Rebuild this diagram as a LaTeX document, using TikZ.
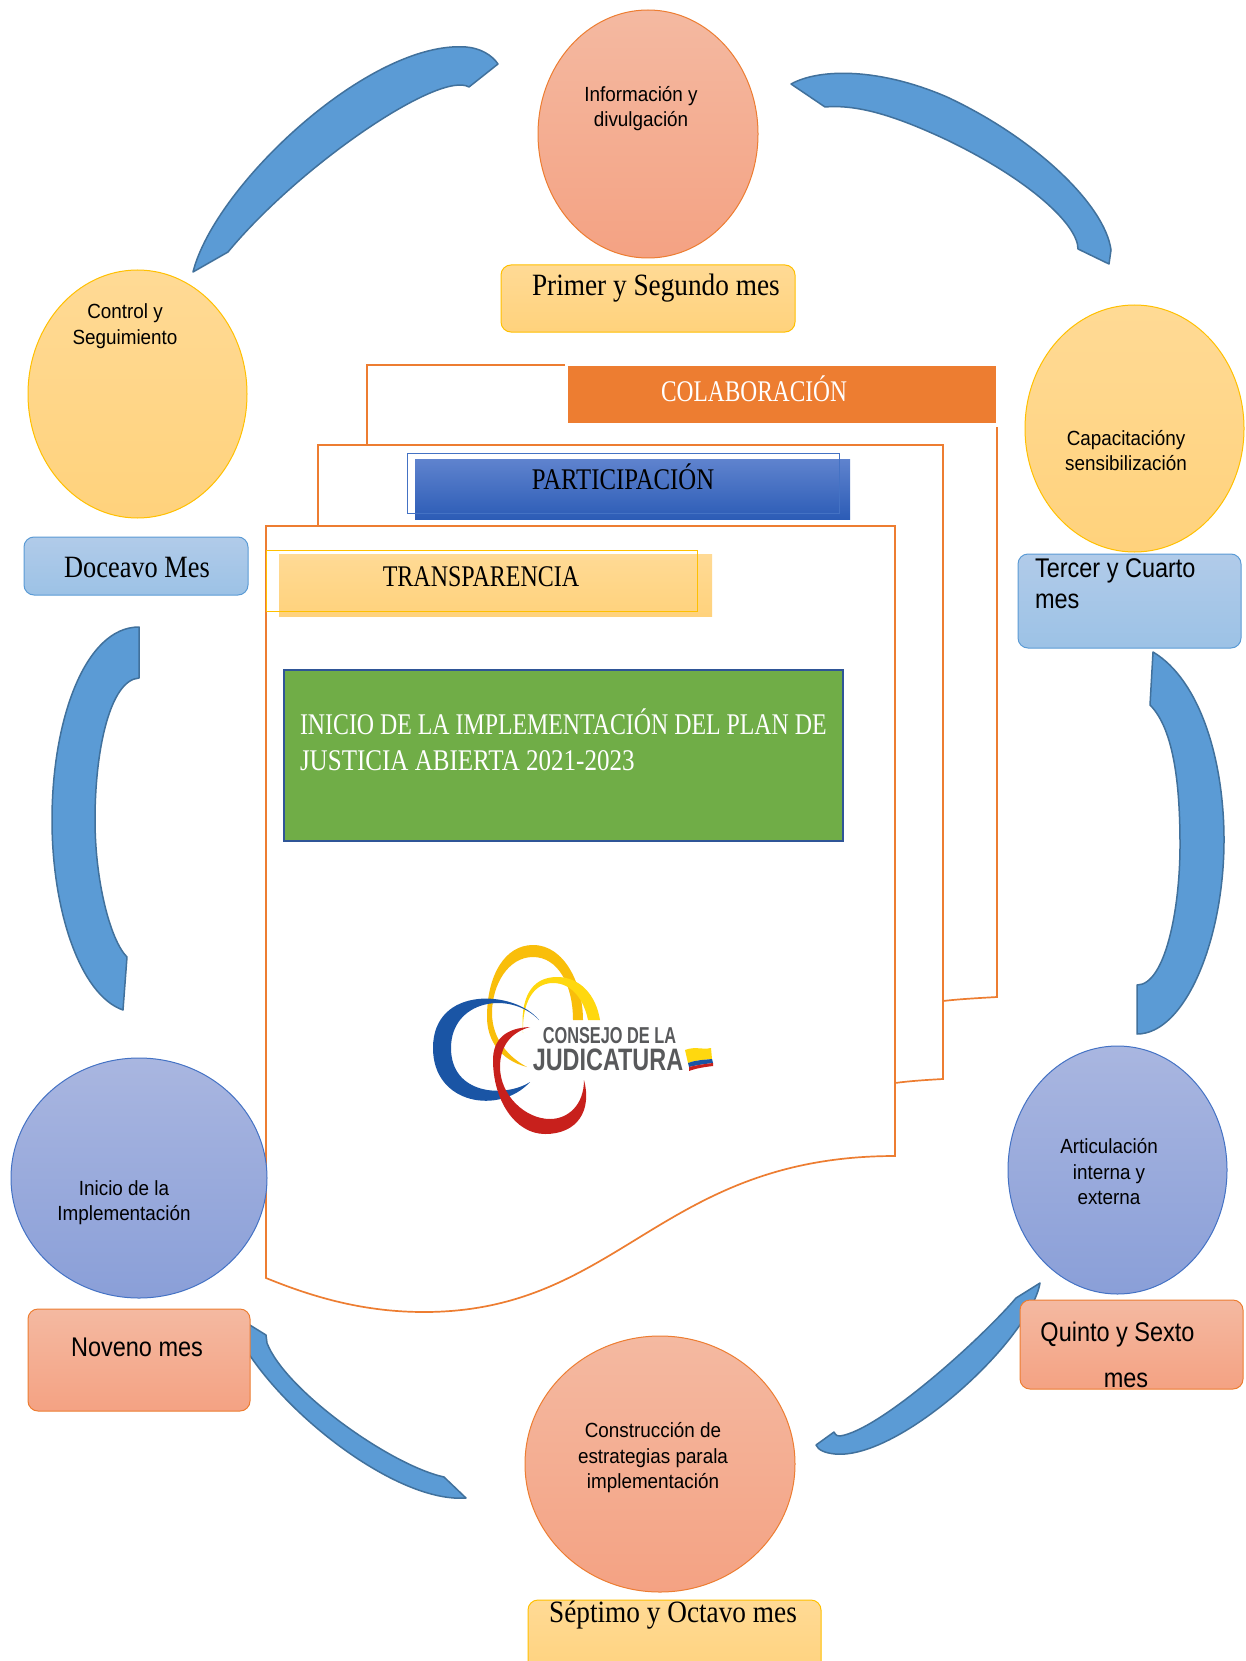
\documentclass[tikz,border=0pt]{standalone}
\usepackage{fontspec}
\usetikzlibrary{shapes.geometric}
\setmainfont{Liberation Serif}
\newfontfamily\srf[FakeStretch=0.80]{Liberation Serif}
\newfontfamily\srfc[FakeStretch=0.78]{Liberation Serif}
\newfontfamily\srfm[FakeStretch=0.88]{Liberation Serif}
\newfontfamily\srfd[FakeStretch=0.85]{Liberation Serif}
\newfontfamily\srfa[FakeStretch=0.795]{Liberation Serif}
\newfontfamily\srfb[FakeStretch=0.835]{Liberation Serif}
\newfontfamily\srfp[FakeStretch=0.825]{Liberation Serif}
\newfontfamily\snf[FakeStretch=0.92]{Liberation Sans}
\newfontfamily\snt[FakeStretch=0.87]{Liberation Sans}
\newfontfamily\lgf[FakeStretch=0.71]{Liberation Sans}
\newfontfamily\lgg[FakeStretch=0.755]{Liberation Sans}
\definecolor{arrowfill}{HTML}{5B9BD5}
\definecolor{arrowline}{HTML}{41719C}
\definecolor{pageline}{HTML}{ED7D31}
\definecolor{salmonA}{HTML}{F4B9A1}
\definecolor{salmonB}{HTML}{F4A283}
\definecolor{yellowA}{HTML}{FFDA95}
\definecolor{yellowB}{HTML}{FFD27C}
\definecolor{yellowL}{HTML}{FFC000}
\definecolor{blueA}{HTML}{B1CBE9}
\definecolor{blueB}{HTML}{9CC2E6}
\definecolor{purpleA}{HTML}{A9B6E0}
\definecolor{purpleB}{HTML}{8A9FD8}
\definecolor{purpleL}{HTML}{4472C4}
\definecolor{partA}{HTML}{5F83CE}
\definecolor{partB}{HTML}{2C5CB6}
\definecolor{greenbox}{HTML}{70AD47}
\definecolor{greenline}{HTML}{2F5597}
\definecolor{logogray}{HTML}{58595B}
\definecolor{logoyellow}{HTML}{F9BE0A}
\definecolor{logolight}{HTML}{FFD80F}
\definecolor{logoblue}{HTML}{1A55A5}
\definecolor{logored}{HTML}{C8201C}
\tikzset{
  x=1pt,y=-1pt,
  every node/.style={inner sep=0pt,outer sep=0pt},
  blockarrow/.style={fill=arrowfill,draw=arrowline,line width=1.5pt,line join=round},
  pagesheet/.style={fill=white,draw=pageline,line width=1.7pt},
  pageedge/.style={draw=pageline,line width=1.7pt},
  oval/.style={ellipse,line width=1pt},
  ovalS/.style={oval,draw=pageline,top color=salmonA,bottom color=salmonB},
  ovalY/.style={oval,draw=yellowL,top color=yellowA,bottom color=yellowB},
  ovalP/.style={oval,draw=purpleL,top color=purpleA,bottom color=purpleB},
  tag/.style={rectangle,rounded corners=10pt,line width=1pt},
  tagY/.style={tag,draw=yellowL,top color=yellowA,bottom color=yellowB},
  tagB/.style={tag,draw=arrowfill,top color=blueA,bottom color=blueB},
  tagS/.style={tag,draw=pageline,top color=salmonA,bottom color=salmonB},
  ovaltext/.style={align=center,font=\snf\fontsize{20.5}{25.5}\selectfont},
  tagsans/.style={align=left,font=\snt\fontsize{27}{31}\selectfont},
  tagserif/.style={font=\srfm\fontsize{31}{34}\selectfont},
  bandtext/.style={font=\srf\fontsize{30}{34}\selectfont}
}
\begin{document}
\begin{tikzpicture}
\useasboundingbox (0,0) rectangle (1245,1661);
\fill[white] (0,0) rectangle (1245,1661);

% stacked pages
\draw[pageedge] (565,365) -- (367,365) -- (367,445);
\draw[pageedge] (997,427) -- (997,997) .. controls (980,998) and (960,999) .. (943,1001);
\draw[pagesheet] (318,526) -- (318,445) -- (943,445) -- (943,1079) .. controls (925,1080) and (910,1081) .. (895,1083) -- (318,1083) -- cycle;
\fill[white] (319,1000) rectangle (894,1082);
\draw[pagesheet] (266,526) -- (895,526) -- (895,1156) .. controls (660,1156) and (620,1312) .. (424,1312) .. controls (365,1312) and (315,1298) .. (266,1278) -- cycle;

% bands
\node[rectangle,fill=pageline,minimum width=428,minimum height=57] (colabbox) at (782,394) {};
\node[bandtext,text=white,font=\srfc\fontsize{30}{34}\selectfont] (colabtxt) at (754,389) {COLABORACIÓN};
\node[rectangle,top color=partA,bottom color=partB,minimum width=435,minimum height=60] (partbox) at (632.5,489) {};
\node[rectangle,draw=purpleL,line width=.8pt,minimum width=432,minimum height=60] (partline) at (623,483) {};
\node[bandtext,font=\srfp\fontsize{30}{34}\selectfont] (parttxt) at (623,477) {PARTICIPACIÓN};
\node[rectangle,top color=yellowA,bottom color=yellowB,minimum width=433,minimum height=62] (transbox) at (495.5,585) {};
\node[rectangle,draw=yellowL,line width=.9pt,minimum width=431,minimum height=61] (transline) at (481.5,580.5) {};
\node[bandtext] (transtxt) at (481,577) {TRANSPARENCIA};
\node[rectangle,fill=greenbox,draw=greenline,line width=1.2pt,minimum width=559,minimum height=171] (greenrect) at (563.5,755.5) {};
\node[anchor=west,text=white,font=\srfa\fontsize{30}{37}\selectfont] (greentxtA) at (300,722) {INICIO DE LA IMPLEMENTACIÓN DEL PLAN DE};
\node[anchor=west,text=white,font=\srfb\fontsize{30}{37}\selectfont] (greentxtB) at (300,761) {JUSTICIA ABIERTA 2021-2023};

% logo
\fill[logoyellow] (527,1067) .. controls (500,1060) and (487,1040) .. (487,1017) .. controls (487,975) and (505,945) .. (533,945) .. controls (565,945) and (583,985) .. (583,1020) -- (573,1020) .. controls (573,985) and (558,957) .. (533,957) .. controls (508,957) and (492,985) .. (492,1013) .. controls (492,1040) and (510,1058) .. (527,1067) -- cycle;
\fill[logolight] (523,1033) .. controls (520,1000) and (530,977) .. (557,977) .. controls (580,977) and (596,995) .. (600,1020) -- (588,1020) .. controls (584,1000) and (572,983) .. (553,983) .. controls (533,983) and (522,1003) .. (523,1033) -- cycle;
\fill[logoblue] (539,1020) .. controls (515,990) and (433,985) .. (433,1048) .. controls (433,1105) and (500,1115) .. (530,1082) .. controls (505,1098) and (451,1095) .. (451,1048) .. controls (451,1000) and (510,990) .. (539,1020) -- cycle;
\fill[logored] (530,1027) .. controls (505,1028) and (493,1040) .. (493,1060) .. controls (493,1100) and (515,1134) .. (545,1134) .. controls (578,1134) and (592,1110) .. (584,1080) .. controls (584,1105) and (568,1119) .. (550,1119) .. controls (525,1119) and (500,1095) .. (500,1067) .. controls (500,1045) and (512,1032) .. (530,1027) -- cycle;
\node[text=logogray,font=\lgf\bfseries\fontsize{23}{23}\selectfont] (logoA) at (609.5,1035.5) {CONSEJO DE LA};
\node[text=logogray,font=\lgg\bfseries\fontsize{31}{31}\selectfont] (logoB) at (608,1060) {JUDICATURA};
\fill[logolight] (685,1050) .. controls (695,1046) and (702,1050) .. (711,1048) -- (712,1059) .. controls (703,1060) and (696,1060) .. (688,1063) -- cycle;
\fill[logoblue] (688,1063) .. controls (696,1060) and (703,1060) .. (712,1059) -- (713,1063) .. controls (705,1064) and (697,1065) .. (689,1067) -- cycle;
\fill[logored] (689,1067) .. controls (697,1065) and (705,1064) .. (713,1063) -- (713,1066) .. controls (705,1067) and (697,1068) .. (689,1071) -- cycle;

% block arrows
\draw[blockarrow] (791,84) .. controls (820,68) and (880,68) .. (947,97) .. controls (1035,138) and (1105,205) .. (1111,250) -- (1109,264) -- (1078,249) .. controls (1078,225) and (1030,180) .. (947,140) .. controls (900,118) and (860,104) .. (825,107) -- cycle;
\draw[blockarrow] (1153,652) .. controls (1200,680) and (1224,760) .. (1224,840) .. controls (1224,940) and (1185,1034) .. (1137,1034) -- (1137,985) .. controls (1165,985) and (1180,910) .. (1180,845) .. controls (1180,790) and (1175,730) .. (1150,705) -- cycle;
\draw[blockarrow] (1040,1283) .. controls (1030,1340) and (900,1460) .. (835,1454) .. controls (825,1453) and (818,1450) .. (816,1445) -- (834,1432) .. controls (836,1436) and (838,1436) .. (840,1436) .. controls (880,1430) and (980,1340) .. (1016,1298) -- cycle;
\draw[blockarrow] (245,1322) -- (266,1335) -- (267,1343) .. controls (285,1390) and (390,1465) .. (444,1477) -- (466,1498) .. controls (400,1503) and (290,1420) .. (245,1348) -- cycle;
\draw[blockarrow] (139,627) -- (139,678) .. controls (110,680) and (95,750) .. (95,820) .. controls (95,880) and (110,940) .. (127,957) -- (123,1010) .. controls (80,995) and (52,910) .. (52,820) .. controls (52,720) and (85,627) .. (139,627) -- cycle;
\draw[blockarrow] (193,272) .. controls (215,185) and (370,40) .. (466,47) .. controls (480,48) and (492,55) .. (498,64) -- (469,87) .. controls (440,70) and (300,165) .. (228,252) -- cycle;

% ovals
\node[ovalS,minimum width=220,minimum height=248] (info) at (648,134) {};
\node[ovalY,minimum width=219,minimum height=247] (capa) at (1134.5,428.5) {};
\node[ovalP,minimum width=219,minimum height=248] (arti) at (1117.5,1170) {};
\node[ovalS,minimum width=270,minimum height=256] (cons) at (660,1464) {};
\node[ovalP,minimum width=256,minimum height=240] (inicio) at (139,1178) {};
\node[ovalY,minimum width=219,minimum height=248] (ctrl) at (137.5,394) {};

\node[ovaltext] (infoT) at (641,108.5) {Información y\\divulgación};
\node[ovaltext] (capaT) at (1126,450.5) {Capacitacióny\\sensibilización};
\node[ovaltext] (artiT) at (1109,1172) {Articulación\\interna y\\externa};
\node[ovaltext] (consT) at (653,1458) {Construcción de\\estrategias parala\\implementación};
\node[ovaltext] (inicioT) at (124,1202.5) {Inicio de la\\Implementación};
\node[ovaltext] (ctrlT) at (125,326) {Control y\\Seguimiento};

% month tags
\node[tagY,minimum width=294,minimum height=67] (m1) at (648,298.5) {};
\node[tagserif,anchor=west] (m1T) at (532,288) {Primer y Segundo mes};
\node[tagB,minimum width=223,minimum height=94] (m3) at (1129.5,601) {};
\node[tagsans,anchor=north west] (m3T) at (1035,559) {Tercer y Cuarto\\mes};
\node[tagS,minimum width=223,minimum height=89] (m5) at (1131.5,1344.5) {};
\node[tagsans] (m5T) at (1117.5,1335) {Quinto y Sexto};
\node[tagsans] (m5U) at (1126,1380) {mes};
\node[tagY,minimum width=293,minimum height=80] (m7) at (674.5,1640) {};
\node[tagserif] (m7T) at (673,1615) {Séptimo y Octavo mes};
\node[tagS,minimum width=222,minimum height=102] (m9) at (139,1360) {};
\node[tagsans] (m9T) at (137,1347) {Noveno mes};
\node[tagB,minimum width=224,minimum height=58] (m12) at (136,566) {};
\node[tagserif,font=\srfd\fontsize{31}{34}\selectfont] (m12T) at (137,567) {Doceavo Mes};
\end{tikzpicture}
\end{document}
